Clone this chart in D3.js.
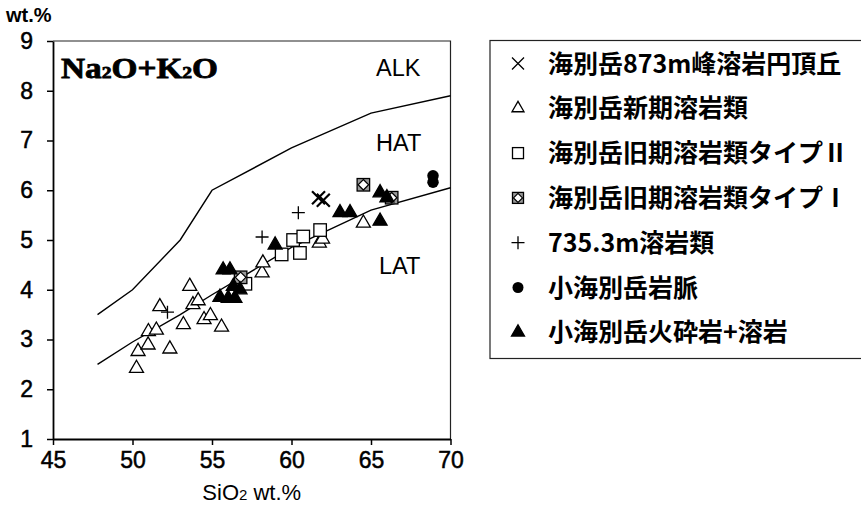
<!DOCTYPE html>
<html lang="ja">
<head>
<meta charset="utf-8">
<script src="https://cdn.jsdelivr.net/npm/d3@7"></script>
<style>
  body { margin: 0; background: #fff; }
  svg { display: block; }
</style>
</head>
<body>
<svg id="graphArea" width="861" height="508"></svg>
<script>

// 軸の目盛り
const xTicks = [45, 50, 55, 60, 65, 70];
const yTicks = [1, 2, 3, 4, 5, 6, 7, 8, 9];

// 境界線 ( ALK / HAT )
const alkHatSiO2 = [47.8, 50, 53, 55, 60, 65, 70];
const alkHatAlk  = [3.5, 4.0, 5.0, 6.0, 6.85, 7.55, 7.9];

// 境界線 ( HAT / LAT )
const hatLatSiO2 = [47.8, 50, 53, 55, 60, 65, 70];
const hatLatAlk  = [2.5, 2.95, 3.5, 3.9, 4.85, 5.6, 6.05];

// 領域ラベル
const zoneLabels = ["ALK", "HAT", "LAT"];

// 凡例の名前
const seriesNames = [
  "海別岳873m峰溶岩円頂丘",
  "海別岳新期溶岩類",
  "海別岳旧期溶岩類タイプⅡ",
  "海別岳旧期溶岩類タイプⅠ",
  "735.3m溶岩類",
  "小海別岳岩脈",
  "小海別岳火砕岩+溶岩",
];

// 海別岳873m峰溶岩円頂丘
const domeX = [61.7, 62.0];
const domeY = [5.85, 5.80];

// 海別岳新期溶岩類
const newLavaX = [50.25, 50.35, 50.98, 51.0, 51.5, 51.72, 52.35, 53.2, 53.6, 53.8,
                  54.13, 54.5, 54.9, 55.6, 58.15, 58.2, 61.75, 61.95, 64.52];
const newLavaY = [2.42, 2.76, 2.89, 3.16, 3.19, 3.66, 2.81, 3.3, 4.07, 3.70,
                  3.78, 3.4, 3.48, 3.25, 4.34, 4.54, 4.94, 5.02, 5.34];

// 海別岳旧期溶岩類タイプⅡ
const oldLava2X = [57.1, 59.38, 60.1, 60.53, 60.74, 61.8];
const oldLava2Y = [4.12, 4.71, 5.0, 4.74, 5.07, 5.2];

// 海別岳旧期溶岩類タイプⅠ
const oldLava1X = [56.8, 64.52, 66.3];
const oldLava1Y = [4.25, 6.11, 5.85];

// 735.3m溶岩類
const lava735X = [52.2, 58.15, 60.43];
const lava735Y = [3.55, 5.06, 5.55];

// 小海別岳岩脈
const dikeX = [68.9, 68.9];
const dikeY = [6.16, 6.29];

// 小海別岳火砕岩+溶岩
const pyroX = [55.5, 55.7, 56.02, 56.13, 56.34, 56.44, 56.76, 58.97, 63.05, 63.68, 65.57, 65.57, 66.0];
const pyroY = [3.85, 4.40, 3.83, 4.40, 4.07, 3.83, 4.0, 4.9, 5.55, 5.55, 5.95, 5.38, 5.85];


class TasDiagram {

  /* コンストラクタ */
  constructor(svgId, margin={top: 41, left: 53, width: 397.5, height: 398}) {
    this.svg = d3.select(`#${svgId}`);
    this.margin = margin;

    // スケール
    this.x = d3.scaleLinear()
      .domain([45, 70])
      .range([margin.left, margin.left + margin.width]);
    this.y = d3.scaleLinear()
      .domain([1, 9])
      .range([margin.top + margin.height, margin.top]);

    this.drawFrame();
    this.drawAxes();
    this.drawBoundaries();
    this.drawLabels();
    this.drawSeries();
    this.drawLegend();
  }

  /* プロットエリアの枠 ( 上と右 ) */
  drawFrame() {
    let m = this.margin;
    this.svg.append("path")
      .attr("d", `M${m.left},${m.top}H${m.left + m.width}V${m.top + m.height}`)
      .attr("fill", "none")
      .attr("stroke", "#222")
      .attr("stroke-width", 1.2);
  }

  /* 軸を作成する */
  drawAxes() {
    let m = this.margin;

    let xAxis = this.svg.append("g")
      .attr("class", "x-axis")
      .attr("transform", `translate(0,${m.top + m.height})`)
      .call(d3.axisBottom(this.x).tickValues(xTicks).tickSize(6).tickSizeOuter(0));

    let yAxis = this.svg.append("g")
      .attr("class", "y-axis")
      .attr("transform", `translate(${m.left},0)`)
      .call(d3.axisLeft(this.y).tickValues(yTicks).tickSize(6).tickSizeOuter(0));

    this.svg.selectAll(".x-axis path, .y-axis path")
      .attr("stroke", "#000")
      .attr("stroke-width", 1.8);
    this.svg.selectAll(".x-axis line, .y-axis line")
      .attr("stroke", "#000")
      .attr("stroke-width", 1.5);

    // 目盛りラベル ( 少し太めに見せる )
    this.svg.selectAll(".x-axis text, .y-axis text")
      .attr("font-family", "'Liberation Sans', Arial, sans-serif")
      .attr("font-size", 23)
      .attr("fill", "#000")
      .attr("stroke", "#000")
      .attr("stroke-width", 0.5);

    xAxis.selectAll("text")
      .attr("dy", "0.76em")
      .attr("y", 12);

    yAxis.selectAll("text")
      .attr("x", -20);

    // 軸タイトル
    let xt = this.svg.append("text")
      .attr("x", this.x(57.5))
      .attr("y", 500)
      .attr("text-anchor", "middle")
      .attr("font-family", "'Liberation Sans', Arial, sans-serif")
      .attr("font-size", 22);
    xt.append("tspan").text("SiO");
    xt.append("tspan").attr("font-size", 15).text("2");
    xt.append("tspan").text(" wt.%");

    this.svg.append("text")
      .attr("x", 6)
      .attr("y", 22)
      .attr("font-family", "'Liberation Sans', Arial, sans-serif")
      .attr("font-weight", "bold")
      .attr("font-size", 20)
      .text("wt.%");
  }

  /* 境界線を描く */
  drawBoundaries() {
    let line = d3.line()
      .x(d => this.x(d[0]))
      .y(d => this.y(d[1]));

    let lines = [
      d3.zip(alkHatSiO2, alkHatAlk),
      d3.zip(hatLatSiO2, hatLatAlk),
    ];

    this.svg.append("g")
      .selectAll("path")
      .data(lines)
      .join("path")
      .attr("d", line)
      .attr("fill", "none")
      .attr("stroke", "#000")
      .attr("stroke-width", 1.4);
  }

  /* ラベルを描く */
  drawLabels() {
    // Na2O + K2O
    let t = this.svg.append("text")
      .attr("x", 61)
      .attr("y", 78)
      .attr("font-family", "'Liberation Serif', 'Times New Roman', serif")
      .attr("font-weight", "bold")
      .attr("font-size", 29)
      .attr("stroke", "#000")
      .attr("stroke-width", 0.8)
      .attr("textLength", 157)
      .attr("lengthAdjust", "spacingAndGlyphs");
    t.append("tspan").text("Na");
    t.append("tspan").attr("font-size", 17).text("2");
    t.append("tspan").text("O+K");
    t.append("tspan").attr("font-size", 17).text("2");
    t.append("tspan").text("O");

    // 領域名
    let pos = [[376, 76], [376, 151], [379, 274]];
    this.svg.append("g")
      .selectAll("text")
      .data(zoneLabels)
      .join("text")
      .attr("x", (d, i) => pos[i][0])
      .attr("y", (d, i) => pos[i][1])
      .attr("font-family", "'Liberation Sans', Arial, sans-serif")
      .attr("font-size", 23.5)
      .text(d => d);
  }

  /* マーカーを 1 個描く */
  static marker(g, type, s) {
    let sw = 1.3;
    if (type === "cross") {
      let r = s / 2;
      g.append("path")
        .attr("d", `M${-r},${-r}L${r},${r}M${-r},${r}L${r},${-r}`)
        .attr("stroke", "#000").attr("stroke-width", s > 12 ? 2.2 : 1.3);
    } else if (type === "plus") {
      let r = s / 2;
      g.append("path")
        .attr("d", `M${-r},0H${r}M0,${-r}V${r}`)
        .attr("stroke", "#000").attr("stroke-width", sw);
    } else if (type === "triangle" || type === "triangleFilled") {
      let area = Math.sqrt(3) / 4 * s * s;
      g.append("path")
        .attr("d", d3.symbol(d3.symbolTriangle, area)())
        .attr("fill", type === "triangle" ? "#fff" : "#000")
        .attr("stroke", "#000").attr("stroke-width", sw);
    } else if (type === "square") {
      g.append("rect")
        .attr("x", -s / 2).attr("y", -s / 2)
        .attr("width", s).attr("height", s)
        .attr("fill", "#fff")
        .attr("stroke", "#000").attr("stroke-width", sw);
    } else if (type === "squareDiamond") {
      g.append("rect")
        .attr("x", -s / 2).attr("y", -s / 2)
        .attr("width", s).attr("height", s)
        .attr("fill", "#999")
        .attr("stroke", "#000").attr("stroke-width", sw);
      let r = s / 2 - 1;
      g.append("path")
        .attr("d", `M0,${-r}L${r},0L0,${r}L${-r},0Z`)
        .attr("fill", "#fff")
        .attr("stroke", "#000").attr("stroke-width", 1.2);
    } else if (type === "circle") {
      g.append("circle")
        .attr("r", s / 2)
        .attr("fill", "#000");
    }
  }

  /* 系列のデータをまとめる */
  static seriesTable() {
    let xs = [domeX, newLavaX, oldLava2X, oldLava1X, lava735X, dikeX, pyroX];
    let ys = [domeY, newLavaY, oldLava2Y, oldLava1Y, lava735Y, dikeY, pyroY];
    let types = ["cross", "triangle", "square", "squareDiamond", "plus", "circle", "triangleFilled"];
    let sizes = [13, 14, 12.5, 12.5, 13, 11.5, 14];
    let legendSizes = [12, 12, 11, 11, 13, 11, 13];
    return seriesNames.map((name, i) => ({
      name: name,
      type: types[i],
      size: sizes[i],
      legendSize: legendSizes[i],
      points: d3.zip(xs[i], ys[i]),
    }));
  }

  /* 系列を描く */
  drawSeries() {
    this.series = TasDiagram.seriesTable();
    let order = [1, 2, 3, 4, 0, 5, 6];
    for (let k of order) {
      let s = this.series[k];
      let g = this.svg.append("g").attr("class", `series-${k}`);
      for (let p of s.points) {
        let mg = g.append("g")
          .attr("transform", `translate(${this.x(p[0])},${this.y(p[1])})`);
        TasDiagram.marker(mg, s.type, s.size);
      }
    }
  }

  /* 凡例を描く */
  drawLegend() {
    let left = 490, top = 40.5, rowH = 44.8, first = 63.5;
    this.svg.append("rect")
      .attr("x", left).attr("y", top)
      .attr("width", 400).attr("height", 318)
      .attr("fill", "none")
      .attr("stroke", "#222")
      .attr("stroke-width", 1.2);

    let rows = this.svg.append("g")
      .selectAll("g")
      .data(this.series)
      .join("g")
      .attr("transform", (d, i) => `translate(0,${first + i * rowH})`);

    rows.each(function (d) {
      let mg = d3.select(this).append("g").attr("transform", "translate(518,0)");
      TasDiagram.marker(mg, d.type, d.legendSize);
    });

    rows.append("text")
      .attr("x", 548)
      .attr("dy", "0.36em")
      .attr("font-family", "'Noto Sans CJK JP', sans-serif")
      .attr("font-weight", "bold")
      .attr("font-size", 25)
      .text(d => d.name);
  }

}

/* main */
let tas = new TasDiagram("graphArea");
</script>
</body>
</html>
